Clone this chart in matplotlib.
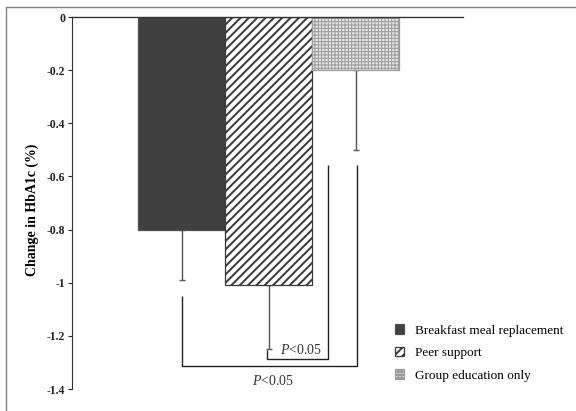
import matplotlib
matplotlib.use("Agg")
import matplotlib.pyplot as plt
from matplotlib.lines import Line2D
from matplotlib.ticker import FixedLocator

groups = ["Breakfast meal replacement", "Peer support", "Group education only"]
means = [-0.80, -1.01, -0.20]
lower_err = [0.19, 0.24, 0.30]
yticks = [0, -0.2, -0.4, -0.6, -0.8, -1.0, -1.2, -1.4]
ytick_labels = ["0", "-0.2", "-0.4", "-0.6", "-0.8", "-1", "-1.2", "-1.4"]
p_label = "<0.05"

plt.rcParams["font.family"] = ["Liberation Serif", "DejaVu Serif"]
plt.rcParams["mathtext.fontset"] = "custom"
plt.rcParams["mathtext.rm"] = "Liberation Serif"
plt.rcParams["mathtext.it"] = "Liberation Serif:italic"
plt.rcParams["hatch.linewidth"] = 1.4

W, H = 576, 411
fig = plt.figure(figsize=(W / 100, H / 100), dpi=100)
ax = fig.add_axes([72 / W, 1 - 389 / H, (463 - 72) / W, (389 - 17) / H])

faces = ["#404040", "white", "#e4e4e4"]
hatches = [None, "////", "+++++"]
hatch_cols = ["#505050", "#383838", "#9c9c9c"]
hatch_lws = [1.0, 1.4, 0.7]
xs = list(range(len(groups)))

bars = []
for i, (x, m) in enumerate(zip(xs, means)):
    b = ax.bar(x, m, width=1.0, color=faces[i], edgecolor=hatch_cols[i],
               hatch=hatches[i], linewidth=0.9, label=groups[i], zorder=2)
    for p in b:
        if hasattr(p, "set_hatch_linewidth"):
            p.set_hatch_linewidth(hatch_lws[i])
    bars.append(b)

for i, (x, m, e) in enumerate(zip(xs, means, lower_err)):
    ax.errorbar(x, m, yerr=[[e], [0]], fmt="none", ecolor="#555555",
                elinewidth=1.0, capsize=2.5, capthick=1.0, zorder=1)

# significance brackets
bk = dict(color="#222222", lw=1.0, solid_capstyle="butt", zorder=3)
ax.plot([0, 0, 2.01, 2.01], [-1.05, -1.313, -1.313, -0.557], **bk)
ax.plot([0.98, 0.98, 1.68, 1.68], [-1.253, -1.287, -1.287, -0.557], **bk)
ax.text(1.37, -1.255, "$\\it{P}$" + p_label, ha="center", va="center",
        fontsize=10, color="#333333")
ax.text(1.05, -1.37, "$\\it{P}$" + p_label, ha="center", va="center",
        fontsize=10, color="#333333")

ax.set_xlim(-1.264, 3.23)
ax.set_ylim(-1.4, 0)
ax.yaxis.set_major_locator(FixedLocator(yticks))
ax.set_yticklabels(ytick_labels, fontweight="bold", fontsize=8.5)
ax.set_xticks([])
for s in ["right", "bottom"]:
    ax.spines[s].set_visible(False)
ax.spines["top"].set_color("#333333")
ax.spines["left"].set_color("#333333")
ax.spines["top"].set_linewidth(1.0)
ax.spines["left"].set_linewidth(0.8)
ax.tick_params(axis="y", direction="out", length=3, width=0.8, pad=2,
               colors="#222222")
ax.set_ylabel("Change in HbA1c (%)", fontweight="bold", fontsize=10)
ax.yaxis.set_label_coords((39 - 72) / 391, 1 - (210 - 17) / 372)
ax.patch.set_alpha(0)

leg = fig.legend(handles=[b for b in bars], labels=groups,
                 loc="center left", bbox_to_anchor=(388 / W, 1 - 353 / H),
                 frameon=False, fontsize=9.5, handlelength=0.75,
                 handleheight=0.75, handletextpad=0.8, labelspacing=0.75,
                 borderpad=0)

# outer frame (left and top)
fig.add_artist(Line2D([6 / W, 6 / W, 1], [0, 1 - 7 / H, 1 - 7 / H],
                      transform=fig.transFigure, color="#808080", lw=1.0))

fig.savefig("out.png", dpi=100)
